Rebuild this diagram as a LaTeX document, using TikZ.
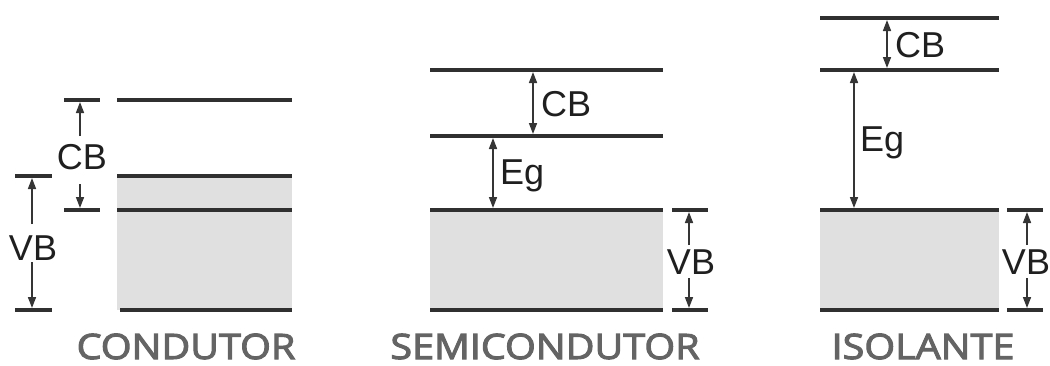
\documentclass[tikz,border=0pt]{standalone}
\usepackage{fontspec}
\setmainfont{Liberation Sans}
\newfontfamily\titlefont[FakeStretch=1.13,FakeBold=3]{Open Sans}
\usetikzlibrary{arrows.meta}
\definecolor{band}{HTML}{303030}
\definecolor{fillg}{HTML}{E0E0E0}
\definecolor{arrc}{HTML}{353535}
\definecolor{titleg}{HTML}{646464}
\begin{document}
\begin{tikzpicture}[x=1pt,y=-1pt,
  bandline/.style={line width=3.5pt,draw=band},
  arr/.style={line width=1.6pt,draw=arrc,-{Triangle[length=11pt,width=8pt]}},
  darr/.style={line width=1.6pt,draw=arrc,{Triangle[length=11pt,width=8pt]}-{Triangle[length=11pt,width=8pt]}},
  lbl/.style={font=\fontsize{36}{36}\selectfont,text=black!88,inner sep=0pt},
  ttl/.style={font=\titlefont\fontsize{35}{35}\selectfont,text=titleg,anchor=base,text depth=0pt,inner sep=0pt}]
\useasboundingbox (0,0) rectangle (1050,365);

% ---------- CONDUTOR ----------
\fill[fillg] (117,176) rectangle (292,310);
\draw[bandline] (117,100) -- (292,100);
\draw[bandline] (117,176) -- (292,176);
\draw[bandline] (117,210) -- (292,210);
\draw[bandline] (120,310) -- (292,310);
\draw[bandline] (64,100) -- (100,100);
\draw[bandline] (64,210) -- (100,210);
\draw[bandline] (15,176) -- (52,176);
\draw[bandline] (15,310) -- (52,310);
\node[lbl] (ccb) at (82,157) {CB};
\node[lbl] (cvb) at (33,248) {VB};
\coordinate (ccbtop) at (80,102);
\coordinate (ccbbot) at (80,208);
\coordinate (cvbtop) at (32,178);
\coordinate (cvbbot) at (32,308);
\coordinate (ccb1) at (80,136);
\coordinate (ccb2) at (80,184);
\coordinate (cvb1) at (32,224);
\coordinate (cvb2) at (32,262);
\draw[arr] (ccb1) -- (ccbtop);
\draw[arr] (ccb2) -- (ccbbot);
\draw[arr] (cvb1) -- (cvbtop);
\draw[arr] (cvb2) -- (cvbbot);
\node[ttl] (tc) at (186,359) {CONDUTOR};

% ---------- SEMICONDUTOR ----------
\fill[fillg] (430,210) rectangle (663,310);
\draw[bandline] (430,70) -- (663,70);
\draw[bandline] (430,136) -- (663,136);
\draw[bandline] (430,210) -- (663,210);
\draw[bandline] (430,310) -- (663,310);
\draw[bandline] (672,210) -- (708,210);
\draw[bandline] (672,310) -- (708,310);
\coordinate (scb1) at (533,72);
\coordinate (scb2) at (533,134);
\coordinate (seg1) at (493,138);
\coordinate (seg2) at (493,208);
\draw[darr] (scb1) -- (scb2);
\draw[darr] (seg1) -- (seg2);
\node[lbl,anchor=west] (scb) at (541,104) {CB};
\node[lbl,anchor=west] (seg) at (500,176) {Eg};
\node[lbl] (svb) at (691,262) {VB};
\coordinate (svbt) at (689,212);
\coordinate (svbb) at (689,308);
\coordinate (svb1) at (689,245);
\coordinate (svb2) at (689,278);
\draw[arr] (svb1) -- (svbt);
\draw[arr] (svb2) -- (svbb);
\node[ttl] (ts) at (545,359) {SEMICONDUTOR};

% ---------- ISOLANTE ----------
\fill[fillg] (820,210) rectangle (999,310);
\draw[bandline] (820,18) -- (999,18);
\draw[bandline] (820,70) -- (999,70);
\draw[bandline] (820,210) -- (999,210);
\draw[bandline] (820,310) -- (999,310);
\draw[bandline] (1007,210) -- (1043,210);
\draw[bandline] (1007,310) -- (1043,310);
\coordinate (icb1) at (887,20);
\coordinate (icb2) at (887,68);
\coordinate (ieg1) at (854,72);
\coordinate (ieg2) at (854,208);
\draw[darr] (icb1) -- (icb2);
\draw[darr] (ieg1) -- (ieg2);
\node[lbl,anchor=west] (icb) at (895,45) {CB};
\node[lbl,anchor=west] (ieg) at (860,143) {Eg};
\node[lbl] (ivb) at (1026,262) {VB};
\coordinate (ivbt) at (1027,212);
\coordinate (ivbb) at (1027,308);
\coordinate (ivb1) at (1027,245);
\coordinate (ivb2) at (1027,278);
\draw[arr] (ivb1) -- (ivbt);
\draw[arr] (ivb2) -- (ivbb);
\node[ttl] (ti) at (923,359) {ISOLANTE};
\end{tikzpicture}
\end{document}
